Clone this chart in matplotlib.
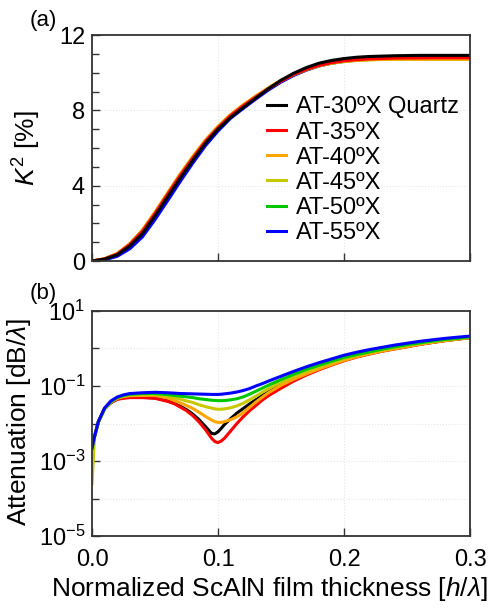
import numpy as np
import matplotlib
matplotlib.use("Agg")
import matplotlib.pyplot as plt
from matplotlib.ticker import MultipleLocator, NullFormatter

plt.rcParams['font.family'] = ['Liberation Sans', 'DejaVu Sans']
plt.rcParams['mathtext.fontset'] = 'custom'
plt.rcParams['mathtext.rm'] = 'Liberation Sans'
plt.rcParams['mathtext.it'] = 'Liberation Sans:italic'

# series labels and colours
labels = ['AT-30ºX Quartz', 'AT-35ºX', 'AT-40ºX', 'AT-45ºX', 'AT-50ºX', 'AT-55ºX']
colors = ['#000000', '#ff0000', '#ffa500', '#c8c800', '#00c800', '#0000ff']

# (a) electromechanical coupling K^2 [%] vs h/lambda
h_k2 = [0, 0.01, 0.02, 0.03, 0.04, 0.05, 0.06, 0.07, 0.08, 0.09, 0.10,
        0.11, 0.12, 0.13, 0.14, 0.15, 0.16, 0.17, 0.18, 0.19, 0.20,
        0.21, 0.22, 0.23, 0.24, 0.25, 0.26, 0.27, 0.28, 0.29, 0.30]
k2_30 = [0, 0.10, 0.33, 0.80, 1.45, 2.40, 3.40, 4.40, 5.35, 6.25, 7.00,
         7.62, 8.15, 8.65, 9.15, 9.60, 9.97, 10.27, 10.50, 10.65, 10.75,
         10.82, 10.86, 10.88, 10.90, 10.91, 10.92, 10.92, 10.92, 10.92, 10.92]
k2_35 = [0, 0.11, 0.37, 0.88, 1.58, 2.52, 3.54, 4.54, 5.47, 6.35, 7.08,
         7.72, 8.24, 8.71, 9.15, 9.55, 9.90, 10.17, 10.38, 10.53, 10.63,
         10.69, 10.73, 10.75, 10.77, 10.78, 10.78, 10.79, 10.79, 10.79, 10.79]
k2_40 = [0, 0.12, 0.40, 0.92, 1.65, 2.60, 3.62, 4.62, 5.55, 6.42, 7.15,
         7.78, 8.30, 8.76, 9.20, 9.60, 9.92, 10.18, 10.38, 10.52, 10.61,
         10.66, 10.69, 10.71, 10.72, 10.72, 10.72, 10.72, 10.72, 10.72, 10.72]
k2_45 = [0, 0.12, 0.39, 0.91, 1.63, 2.58, 3.60, 4.60, 5.53, 6.40, 7.13,
         7.76, 8.28, 8.74, 9.18, 9.58, 9.90, 10.16, 10.36, 10.50, 10.59,
         10.65, 10.68, 10.70, 10.71, 10.71, 10.71, 10.71, 10.71, 10.71, 10.71]
k2_50 = [0, 0.11, 0.38, 0.90, 1.60, 2.55, 3.57, 4.57, 5.50, 6.38, 7.10,
         7.74, 8.26, 8.72, 9.16, 9.56, 9.90, 10.16, 10.37, 10.51, 10.60,
         10.66, 10.70, 10.72, 10.74, 10.75, 10.75, 10.76, 10.76, 10.76, 10.76]
k2_55 = [0, 0.06, 0.25, 0.65, 1.28, 2.20, 3.20, 4.22, 5.20, 6.12, 6.90,
         7.58, 8.10, 8.60, 9.08, 9.50, 9.85, 10.13, 10.35, 10.50, 10.60,
         10.67, 10.72, 10.75, 10.77, 10.78, 10.79, 10.80, 10.80, 10.80, 10.80]

# (b) attenuation [dB/lambda] vs h/lambda
h_att = [0, 0.002, 0.005, 0.01, 0.015, 0.02, 0.025, 0.03, 0.04, 0.05,
         0.06, 0.065, 0.07, 0.075, 0.08, 0.085, 0.09, 0.095, 0.0975, 0.10,
         0.1025, 0.105, 0.11, 0.115, 0.12, 0.125, 0.13, 0.135, 0.14, 0.15,
         0.16, 0.17, 0.18, 0.19, 0.20, 0.21, 0.22, 0.23, 0.24, 0.25,
         0.26, 0.27, 0.28, 0.29, 0.30]
att_30 = [0.0022, 0.0045, 0.011, 0.025, 0.036, 0.045, 0.049, 0.050, 0.050, 0.048,
          0.040, 0.0347, 0.0288, 0.0234, 0.0178, 0.0126, 0.0083, 0.0054, 0.0053, 0.0060,
          0.0074, 0.0093, 0.0135, 0.019, 0.0251, 0.0331, 0.0427, 0.055, 0.069, 0.107,
          0.155, 0.214, 0.288, 0.38, 0.49, 0.61, 0.73, 0.86, 0.99, 1.13,
          1.30, 1.46, 1.63, 1.79, 1.96]
att_35 = [0.0022, 0.0045, 0.011, 0.025, 0.036, 0.044, 0.047, 0.049, 0.049, 0.047,
          0.039, 0.034, 0.0275, 0.0219, 0.0162, 0.011, 0.0069, 0.0040, 0.0033, 0.0031,
          0.0034, 0.0040, 0.0063, 0.0100, 0.0151, 0.0219, 0.030, 0.0417, 0.055, 0.087,
          0.135, 0.195, 0.269, 0.36, 0.47, 0.59, 0.71, 0.84, 0.97, 1.11,
          1.28, 1.44, 1.61, 1.77, 1.94]
att_40 = [0.0022, 0.0045, 0.011, 0.025, 0.037, 0.047, 0.052, 0.055, 0.056, 0.056,
          0.048, 0.0417, 0.0355, 0.0302, 0.0251, 0.020, 0.0155, 0.0123, 0.0112, 0.0107,
          0.0107, 0.0112, 0.0126, 0.0151, 0.0195, 0.0269, 0.0372, 0.050, 0.066, 0.105,
          0.151, 0.209, 0.282, 0.372, 0.48, 0.60, 0.72, 0.85, 0.98, 1.12,
          1.29, 1.45, 1.62, 1.78, 1.95]
att_45 = [0.00025, 0.0045, 0.011, 0.025, 0.038, 0.048, 0.054, 0.058, 0.060, 0.060,
          0.054, 0.049, 0.0447, 0.0398, 0.0363, 0.0316, 0.0282, 0.0257, 0.0245, 0.024,
          0.024, 0.0245, 0.0263, 0.0295, 0.0347, 0.0427, 0.0537, 0.0676, 0.085, 0.126,
          0.178, 0.245, 0.324, 0.42, 0.537, 0.66, 0.78, 0.91, 1.05, 1.20,
          1.35, 1.51, 1.66, 1.82, 2.00]
att_50 = [0.0022, 0.0045, 0.011, 0.025, 0.038, 0.049, 0.056, 0.060, 0.063, 0.063,
          0.059, 0.0562, 0.0537, 0.0513, 0.049, 0.0457, 0.0437, 0.0417, 0.0412, 0.0407,
          0.0407, 0.0407, 0.0427, 0.0457, 0.0513, 0.0603, 0.0724, 0.0871, 0.105, 0.148,
          0.204, 0.275, 0.355, 0.457, 0.575, 0.69, 0.81, 0.955, 1.10, 1.26,
          1.41, 1.58, 1.74, 1.86, 2.04]
att_55 = [0.0022, 0.0045, 0.0112, 0.026, 0.040, 0.051, 0.058, 0.063, 0.066, 0.068,
          0.066, 0.0646, 0.0631, 0.0624, 0.0617, 0.061, 0.0603, 0.0596, 0.0596, 0.0596,
          0.0603, 0.0617, 0.0646, 0.0692, 0.0759, 0.0851, 0.100, 0.115, 0.135, 0.182,
          0.245, 0.324, 0.417, 0.525, 0.661, 0.794, 0.933, 1.07, 1.23, 1.38,
          1.55, 1.70, 1.86, 2.00, 2.14]

k2_all = [k2_30, k2_35, k2_40, k2_45, k2_50, k2_55]
att_all = [att_30, att_35, att_40, att_45, att_50, att_55]

fig = plt.figure(figsize=(4.9, 6.08), dpi=100)
ax1 = fig.add_axes([0.1878, 0.5707, 0.7714, 0.3717])
ax2 = fig.add_axes([0.1878, 0.1184, 0.7714, 0.3701])

tick_fs = 17
lab_fs = 19
spine_c = '#333333'

# top panel: draw in reverse so black ends up on top
lines = {}
for i in reversed(range(6)):
    ln, = ax1.plot(h_k2, k2_all[i], color=colors[i], lw=2.2, label=labels[i])
    lines[i] = ln
ax1.set_xlim(0, 0.3)
ax1.set_ylim(0, 12)
ax1.xaxis.set_major_locator(MultipleLocator(0.1))
ax1.yaxis.set_major_locator(MultipleLocator(4))
ax1.yaxis.set_minor_locator(MultipleLocator(1))
ax1.set_xticklabels([])
ax1.set_ylabel(r'$K^2$ [%]', fontsize=lab_fs)
ax1.yaxis.set_label_coords(-0.13, 0.5)
leg = ax1.legend([lines[i] for i in range(6)], labels, loc='upper left',
                 bbox_to_anchor=(0.462, 0.728), frameon=False, fontsize=tick_fs,
                 handlelength=0.8, handletextpad=0.45, labelspacing=0.13,
                 borderpad=0, borderaxespad=0)
for lh in leg.get_lines():
    lh.set_linewidth(2.2)

# bottom panel
for i in range(6):
    ax2.plot(h_att, att_all[i], color=colors[i], lw=2.2)
ax2.set_yscale('log')
ax2.set_xlim(0, 0.3)
ax2.set_ylim(1e-5, 1e1)
ax2.set_yticks([1e-5, 1e-3, 1e-1, 1e1])
ax2.set_yticklabels([r'$10^{-5}$', r'$10^{-3}$', r'$10^{-1}$', r'$10^{1}$'])
ax2.set_yticks([1e-4, 1e-2, 1e0], minor=True)
ax2.yaxis.set_minor_formatter(NullFormatter())
ax2.set_xticks([0, 0.1, 0.2, 0.3])
ax2.set_xticklabels(['0.0', '0.1', '0.2', '0.3'])
ax2.set_ylabel(r'Attenuation [dB/$\lambda$]', fontsize=lab_fs)
ax2.yaxis.set_label_coords(-0.155, 0.508)
ax2.set_xlabel(r'Normalized ScAlN film thickness [$h$/$\lambda$]', fontsize=lab_fs)
ax2.xaxis.set_label_coords(0.468, -0.175)

for ax in (ax1, ax2):
    for s in ax.spines.values():
        s.set_color(spine_c)
        s.set_linewidth(1.3)
    ax.tick_params(which='both', direction='in', top=False, right=False,
                   color=spine_c, width=1.0, labelsize=tick_fs)
    ax.tick_params(which='major', length=6)
    ax.tick_params(which='minor', length=5)
    ax.tick_params(axis='y', pad=5)
    ax.tick_params(axis='x', pad=9)
    ax.grid(True, which='major', color='#e6e6e6', lw=0.8, ls=':')
    ax.set_axisbelow(True)
ax2.grid(True, which='minor', axis='y', color='#e6e6e6', lw=0.8, ls=':')

fig.text(0.060, 0.967, '(a)', fontsize=16, ha='left', va='center')
fig.text(0.060, 0.518, '(b)', fontsize=16, ha='left', va='center')

fig.savefig('out.png', dpi=100)
